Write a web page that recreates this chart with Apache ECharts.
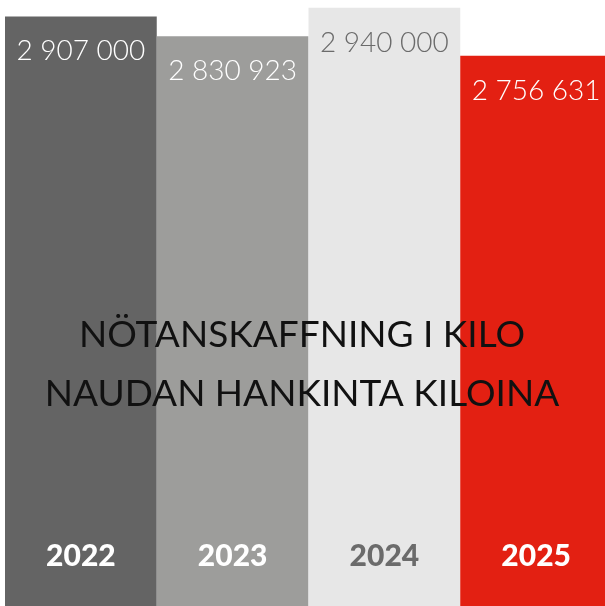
<!DOCTYPE html>
<html>
<head>
<meta charset="utf-8">
<script src="https://cdn.jsdelivr.net/npm/echarts@6/dist/echarts.min.js"></script>
<style>
  html, body { margin: 0; padding: 0; background: #fff; overflow: hidden; }
  #main { width: 612px; height: 606px; }
</style>
</head>
<body>
<div id="main"></div>
<script>
var years = ['2022', '2023', '2024', '2025'];
var kilos = [2907000, 2830923, 2940000, 2756631];
var barColors = ['#646464', '#9d9d9b', '#e7e7e7', '#e32012'];
var textColors = ['#ffffff', '#ffffff', '#6b6b6b', '#ffffff'];
var titleLines = ['NÖTANSKAFFNING I KILO', 'NAUDAN HANKINTA KILOINA'];

var myChart = echarts.init(document.getElementById('main'));

function spaced(v) {
    // 2907000 -> "2 907 000"
    return String(v).replace(/\B(?=(\d{3})+(?!\d))/g, ' ');
}

var barData = kilos.map(function (v, i) {
    return {
        value: v,
        itemStyle: { color: barColors[i] },
        label: { color: textColors[i] }
    };
});

var option = {
    animation: false,
    title: {
        text: titleLines.join('\n'),
        left: 297,
        textAlign: 'center',
        top: 301,
        textStyle: {
            fontFamily: 'Lato',
            fontWeight: 'normal',
            fontSize: 37,
            lineHeight: 59,
            color: '#111111'
        }
    },
    grid: {
        left: 5,
        right: 0,
        top: 0,
        bottom: 0
    },
    xAxis: {
        type: 'category',
        data: years,
        axisLine: { show: false },
        axisTick: { show: false },
        axisLabel: {
            inside: true,
            margin: 35,
            fontFamily: 'Lato',
            fontWeight: 900,
            fontSize: 30,
            color: function (value, index) {
                return textColors[index];
            }
        },
        z: 10
    },
    yAxis: {
        type: 'value',
        min: 650000,
        max: 2970000,
        show: false
    },
    series: [
        {
            type: 'bar',
            barCategoryGap: 0,
            data: barData,
            label: {
                show: true,
                position: 'insideTop',
                distance: 21,
                fontFamily: 'Lato',
                fontWeight: 300,
                fontSize: 28,
                formatter: function (p) {
                    return spaced(p.value);
                }
            }
        }
    ]
};

myChart.setOption(option);
</script>
</body>
</html>
